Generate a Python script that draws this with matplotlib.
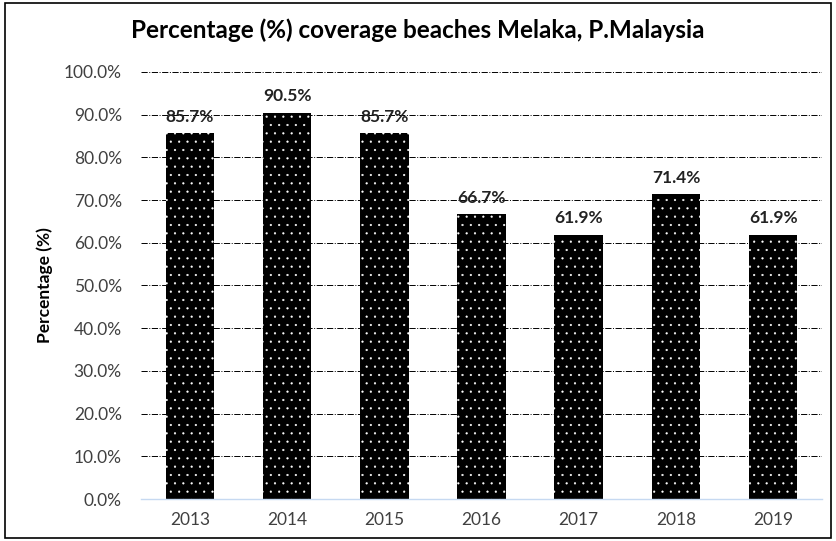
import matplotlib.pyplot as plt
from matplotlib.patches import Rectangle

years = ['2013', '2014', '2015', '2016', '2017', '2018', '2019']
coverage = [85.7, 90.5, 85.7, 66.7, 61.9, 71.4, 61.9]
yticks = [0, 10, 20, 30, 40, 50, 60, 70, 80, 90, 100]

plt.rcParams['font.family'] = ['Lato', 'DejaVu Sans']
plt.rcParams['hatch.linewidth'] = 0.35

fig = plt.figure(figsize=(8.36, 5.41), dpi=100)
ax = fig.add_axes([0.169, 0.0776, 0.814, 0.7894])

x = range(len(years))
ax.bar(x, coverage, width=0.5, color='black', zorder=2)
# white dot pattern on top of the black bars
ax.bar(x, coverage, width=0.5, facecolor='none', edgecolor='white',
       hatch='..', linewidth=0, zorder=3)

for i, v in enumerate(coverage):
    ax.annotate(f'{v:.1f}%', (i, v), xytext=(0, 6), textcoords='offset points',
                ha='center', va='bottom', fontsize=12.5, fontweight='bold',
                color='#222222', zorder=4)

ax.set_xlim(-0.5, len(years) - 0.5)
ax.set_ylim(0, 100)
ax.set_yticks(yticks)
ax.set_yticklabels([f'{t:.1f}%' for t in yticks])
ax.set_xticks(list(x))
ax.set_xticklabels(years)
ax.tick_params(axis='both', length=0, labelsize=12.5, colors='#404040')
ax.tick_params(axis='x', pad=9)
ax.tick_params(axis='y', pad=14)

ax.grid(axis='y', linestyle='-.', color='black', linewidth=0.7, zorder=1)
ax.set_axisbelow(True)
for s in ['top', 'right', 'left']:
    ax.spines[s].set_visible(False)
ax.spines['bottom'].set_color('#C6D9F1')
ax.spines['bottom'].set_linewidth(1.0)

ax.set_ylabel('Percentage (%)', fontsize=12.5, fontweight='bold', color='black', labelpad=8)
fig.text(0.5, 0.944, 'Percentage (%) coverage beaches Melaka, P.Malaysia',
         ha='center', va='center', fontsize=17.5, fontweight='bold')

fig.patches.append(Rectangle((0.006, 0.006), 0.988, 0.988, transform=fig.transFigure,
                             fill=False, edgecolor='black', linewidth=1.2))

fig.savefig('out.png', dpi=100)
